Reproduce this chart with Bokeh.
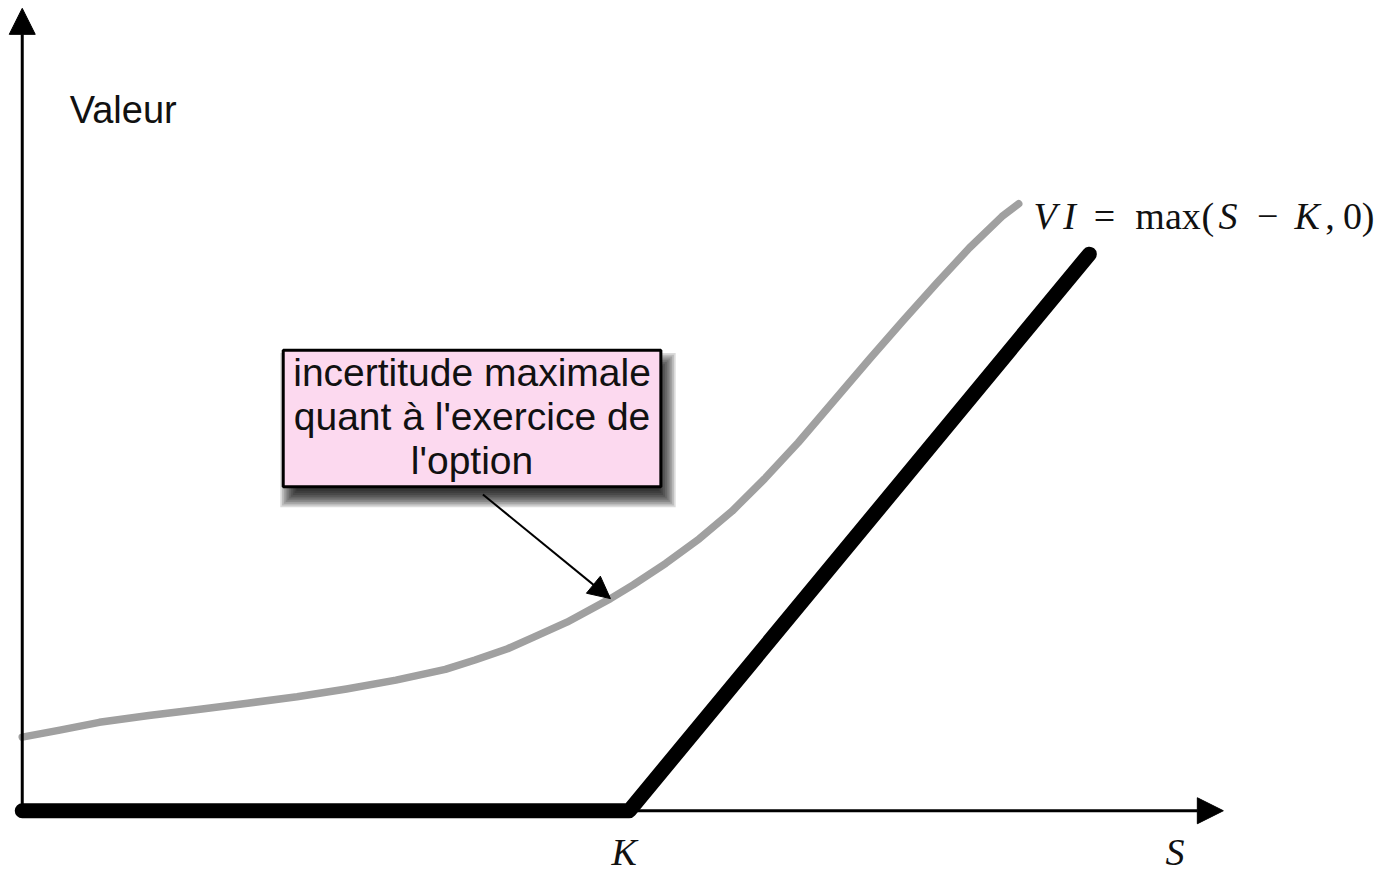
from bokeh.plotting import figure
from bokeh.models import Range1d, Arrow, NormalHead, BoxAnnotation, Label
from bokeh.embed import file_html
from bokeh.resources import INLINE

# ---------------- data ----------------
K = 100.0
s_curve = [0, 6.19, 12.70, 20.85, 28.99, 37.13, 45.28, 53.42, 61.56, 69.71,
           74.59, 79.97, 84.36, 89.74, 96.91, 100.65, 106.03, 111.56, 116.94,
           122.31, 127.85, 134.36, 139.74, 145.11, 150.65, 156.03, 161.40, 164.17]
v_curve = [12.21, 13.36, 14.66, 15.80, 16.78, 17.83, 18.89, 20.20, 21.66, 23.45,
           25.00, 26.87, 28.83, 31.27, 35.18, 37.46, 41.04, 45.11, 49.67,
           55.05, 61.07, 68.73, 75.08, 81.27, 87.46, 93.32, 98.53, 100.65]
s_payoff = [0, K, 175.8]
v_payoff = [0, 0, 92.3]
callout_lines = ["incertitude maximale", "quant à l'exercice de", "l'option"]
y_label = "Valeur"
x_label = "S"
k_label = "K"

# ---------------- layout ----------------
W, H = 1381, 878
PX = 6.14                 # reference pixels per data unit
RW, RH = 1397, 894        # reference picture size
ROX, ROY = 22, 825        # origin in the reference picture
YOFF = 13                 # baseline correction for labels (screen px)


def rx(px):
    return (px - ROX) / PX


def ry(py):
    return (ROY - py) / PX


p = figure(width=W, height=H, output_backend="svg", toolbar_location=None,
           x_range=Range1d(rx(0), rx(RW)), y_range=Range1d(ry(RH), ry(0)),
           x_axis_type=None, y_axis_type=None, min_border=0)
p.outline_line_color = None
p.grid.visible = False
p.background_fill_color = "white"
p.border_fill_color = "white"

# axes with arrow heads
p.add_layout(Arrow(x_start=0, y_start=0, x_end=rx(1237), y_end=0, line_width=3,
                   line_color="black",
                   end=NormalHead(size=26, fill_color="black", line_color="black")))
p.add_layout(Arrow(x_start=0, y_start=0, x_end=0, y_end=ry(8), line_width=3,
                   line_color="black",
                   end=NormalHead(size=26, fill_color="black", line_color="black")))

# curves
p.line(s_curve, v_curve, line_color="#A0A0A0", line_width=7.5, line_cap="round",
       line_join="round")
p.line(s_payoff, v_payoff, line_color="black", line_width=15, line_cap="round",
       line_join="round")

# callout box with soft shadow
bl, br, bt, bb = rx(286), rx(668), ry(356), ry(495)
sdx, sdy = 6 / PX, -12 / PX
for i in range(10):
    sp = (i - 4) * 1.8 / PX
    p.add_layout(BoxAnnotation(left=bl + sdx - sp, right=br + sdx + sp,
                               top=bt + sdy + sp, bottom=bb + sdy - sp,
                               fill_color="black", fill_alpha=0.14,
                               line_color=None))
p.add_layout(BoxAnnotation(left=bl, right=br, top=bt, bottom=bb,
                           fill_color="#FCD9EF", fill_alpha=1.0,
                           line_color="black", line_alpha=1.0, line_width=3))

for txt, by in zip(callout_lines, [392, 437, 482]):
    p.add_layout(Label(x=rx(477), y=ry(by), y_offset=YOFF, text=txt,
                       text_font="Liberation Sans", text_font_size="39px",
                       text_align="center", text_baseline="alphabetic",
                       text_color="#111111"))

# callout arrow
p.add_layout(Arrow(x_start=rx(488), y_start=ry(503), x_end=rx(617), y_end=ry(609),
                   line_width=2, line_color="black",
                   end=NormalHead(size=22, fill_color="black", line_color="black")))

# labels
p.add_layout(Label(x=rx(70), y=ry(125), y_offset=YOFF, text=y_label,
                   text_font="Liberation Sans", text_font_size="38px",
                   text_baseline="alphabetic", text_color="#111111"))
p.add_layout(Label(x=K, y=ry(880), x_offset=-5, y_offset=YOFF, text=k_label,
                   text_font="Liberation Serif", text_font_style="italic",
                   text_font_size="38px", text_align="center",
                   text_baseline="alphabetic", text_color="#111111"))
p.add_layout(Label(x=rx(1188), y=ry(880), y_offset=YOFF, text=x_label,
                   text_font="Liberation Serif", text_font_style="italic",
                   text_font_size="38px", text_align="center",
                   text_baseline="alphabetic", text_color="#111111"))

formula = [("V", 1045, "italic"), ("I", 1075, "italic"), ("=", 1106, "normal"),
           ("max", 1148, "normal"), ("(", 1215, "normal"), ("S", 1232, "italic"),
           ("\u2212", 1271, "normal"), ("K", 1309, "italic"), (",", 1340, "normal"),
           ("0", 1358, "normal"), (")", 1377, "normal")]
for txt, px, style in formula:
    p.add_layout(Label(x=rx(px), y=ry(233), y_offset=YOFF, text=txt,
                       text_font="Liberation Serif", text_font_style=style,
                       text_font_size="38px", text_baseline="alphabetic",
                       text_color="#111111"))

open("out.html", "w").write(file_html(p, INLINE))
